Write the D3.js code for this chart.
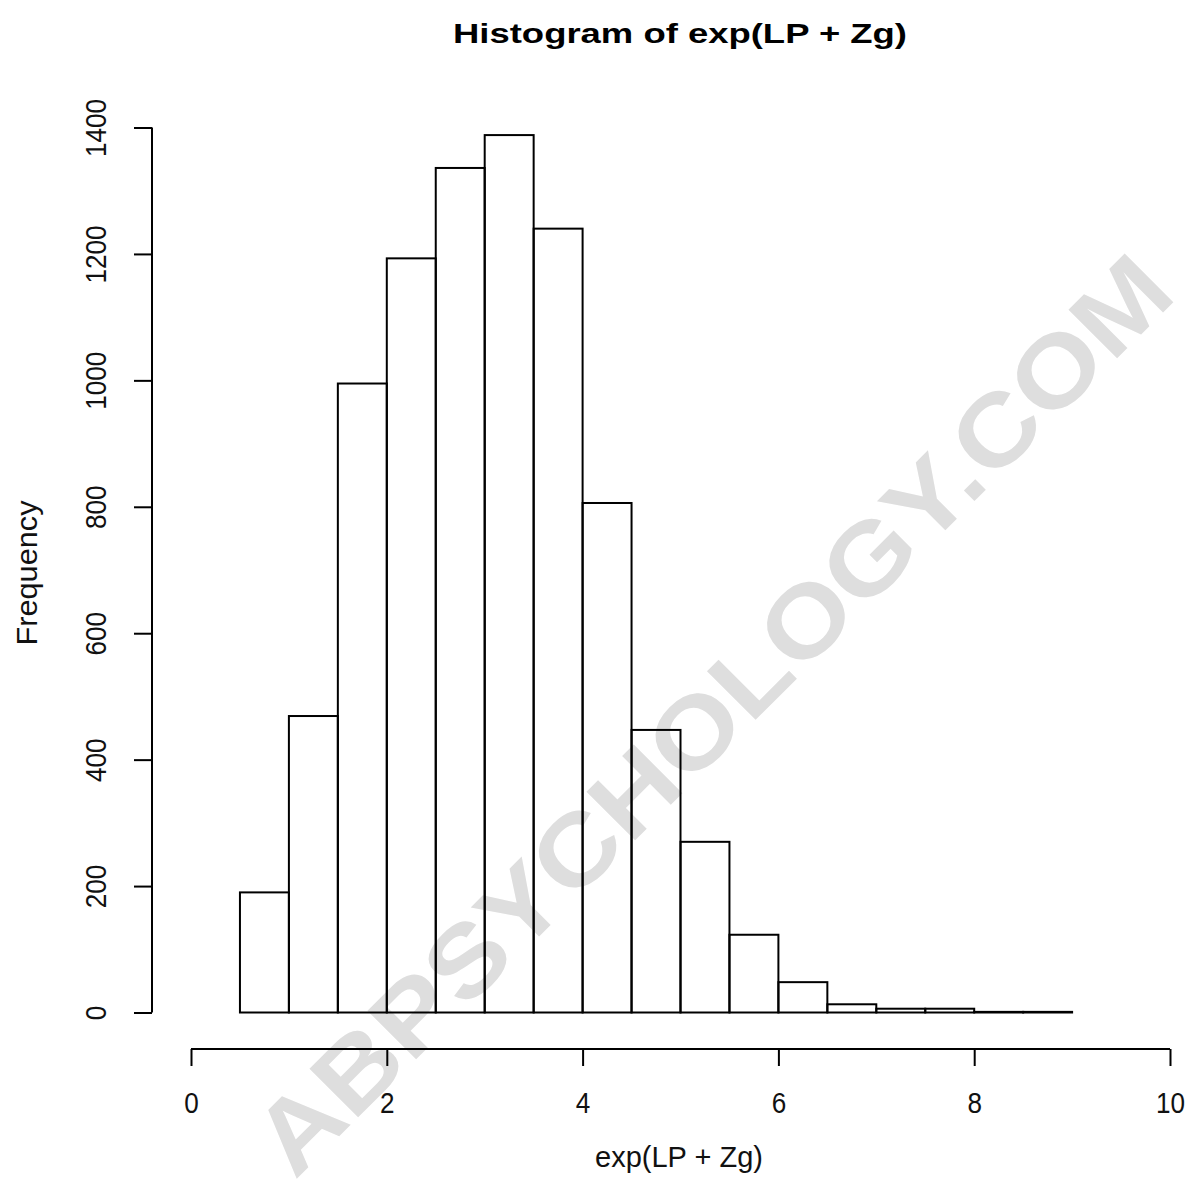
<!DOCTYPE html>
<html><head><meta charset="utf-8">
<script src="https://cdn.jsdelivr.net/npm/d3@7"></script>
<style>body{margin:0;background:#fff}svg{display:block}text{font-family:"Liberation Sans",Arial,sans-serif}</style>
</head><body>
<svg id="chart" width="1192" height="1198"></svg>
<script>
const binStarts = [0.5,1,1.5,2,2.5,3,3.5,4,4.5,5,5.5,6,6.5,7,7.5,8,8.5];
const binWidth = 0.5;
const counts = [190,469,995,1193,1336,1388,1240,806,447,270,123,48,13,6,6,1,1];
const xTicks = [0,2,4,6,8,10];
const yTicks = [0,200,400,600,800,1000,1200,1400];
const title = "Histogram of exp(LP + Zg)";
const xLabel = "exp(LP + Zg)";
const yLabel = "Frequency";

const svg = d3.select("#chart");
const x = d3.scaleLinear().domain([0,10]).range([191,1170]);
const y = d3.scaleLinear().domain([0,1400]).range([1012.5,127.5]);

// watermark (behind; bars are unfilled)
svg.append("text").attr("transform","translate(712,714) rotate(-45)")
  .attr("text-anchor","middle").attr("dominant-baseline","central")
  .attr("font-size",100).attr("font-weight","bold").attr("fill","#dedede")
  .attr("textLength",1250).attr("lengthAdjust","spacingAndGlyphs")
  .text("ABPSYCHOLOGY.COM");

// bars
svg.append("g").selectAll("rect").data(binStarts).join("rect")
  .attr("x", d=>x(d)).attr("width", d=>x(d+binWidth)-x(d))
  .attr("y", (d,i)=>y(counts[i])).attr("height", (d,i)=>y(0)-y(counts[i]))
  .attr("fill","none").attr("stroke","#000").attr("stroke-width",2);

const fs = 29;
// x axis
const xa = svg.append("g").attr("transform","translate(0,1049)")
  .call(d3.axisBottom(x).tickValues(xTicks).tickSize(17).tickFormat(d3.format("d")));
xa.select(".domain").attr("stroke","#000").attr("stroke-width",2).attr("d","M191,0H1170");
xa.selectAll(".tick line").attr("stroke","#000").attr("stroke-width",2);
xa.selectAll(".tick text").attr("font-size",fs).attr("fill","#111")
  .attr("font-family","Liberation Sans, Arial, sans-serif")
  .attr("y",null).attr("dy",null).attr("dominant-baseline","central")
  .attr("transform","translate(0,54) scale(0.9,1)");

// y axis
const ya = svg.append("g").attr("transform","translate(152,0)")
  .call(d3.axisLeft(y).tickValues(yTicks).tickSize(18).tickFormat(d3.format("d")));
ya.select(".domain").attr("stroke","#000").attr("stroke-width",2).attr("d","M0,1012.5V127.5");
ya.selectAll(".tick line").attr("stroke","#000").attr("stroke-width",2);
ya.selectAll(".tick text").attr("font-size",fs).attr("fill","#111")
  .attr("font-family","Liberation Sans, Arial, sans-serif")
  .attr("x",null).attr("dy",null)
  .attr("text-anchor","middle")
  .attr("transform","translate(-55.5,0) rotate(-90) scale(0.9,1)")
  .attr("dominant-baseline","central");

// title
svg.append("text").attr("x",680).attr("y",33).attr("text-anchor","middle")
  .attr("dominant-baseline","central")
  .attr("font-size",28).attr("font-weight","bold").attr("fill","#000")
  .attr("textLength",454).attr("lengthAdjust","spacingAndGlyphs").text(title);
// x label
svg.append("text").attr("x",679).attr("y",1157).attr("text-anchor","middle")
  .attr("dominant-baseline","central")
  .attr("font-size",fs).attr("fill","#111")
  .attr("textLength",168).attr("lengthAdjust","spacingAndGlyphs").text(xLabel);
// y label
svg.append("text").attr("transform","translate(27,573) rotate(-90)").attr("text-anchor","middle")
  .attr("dominant-baseline","central")
  .attr("font-size",fs).attr("fill","#111")
  .attr("textLength",145).attr("lengthAdjust","spacingAndGlyphs").text(yLabel);
</script>
</body></html>
